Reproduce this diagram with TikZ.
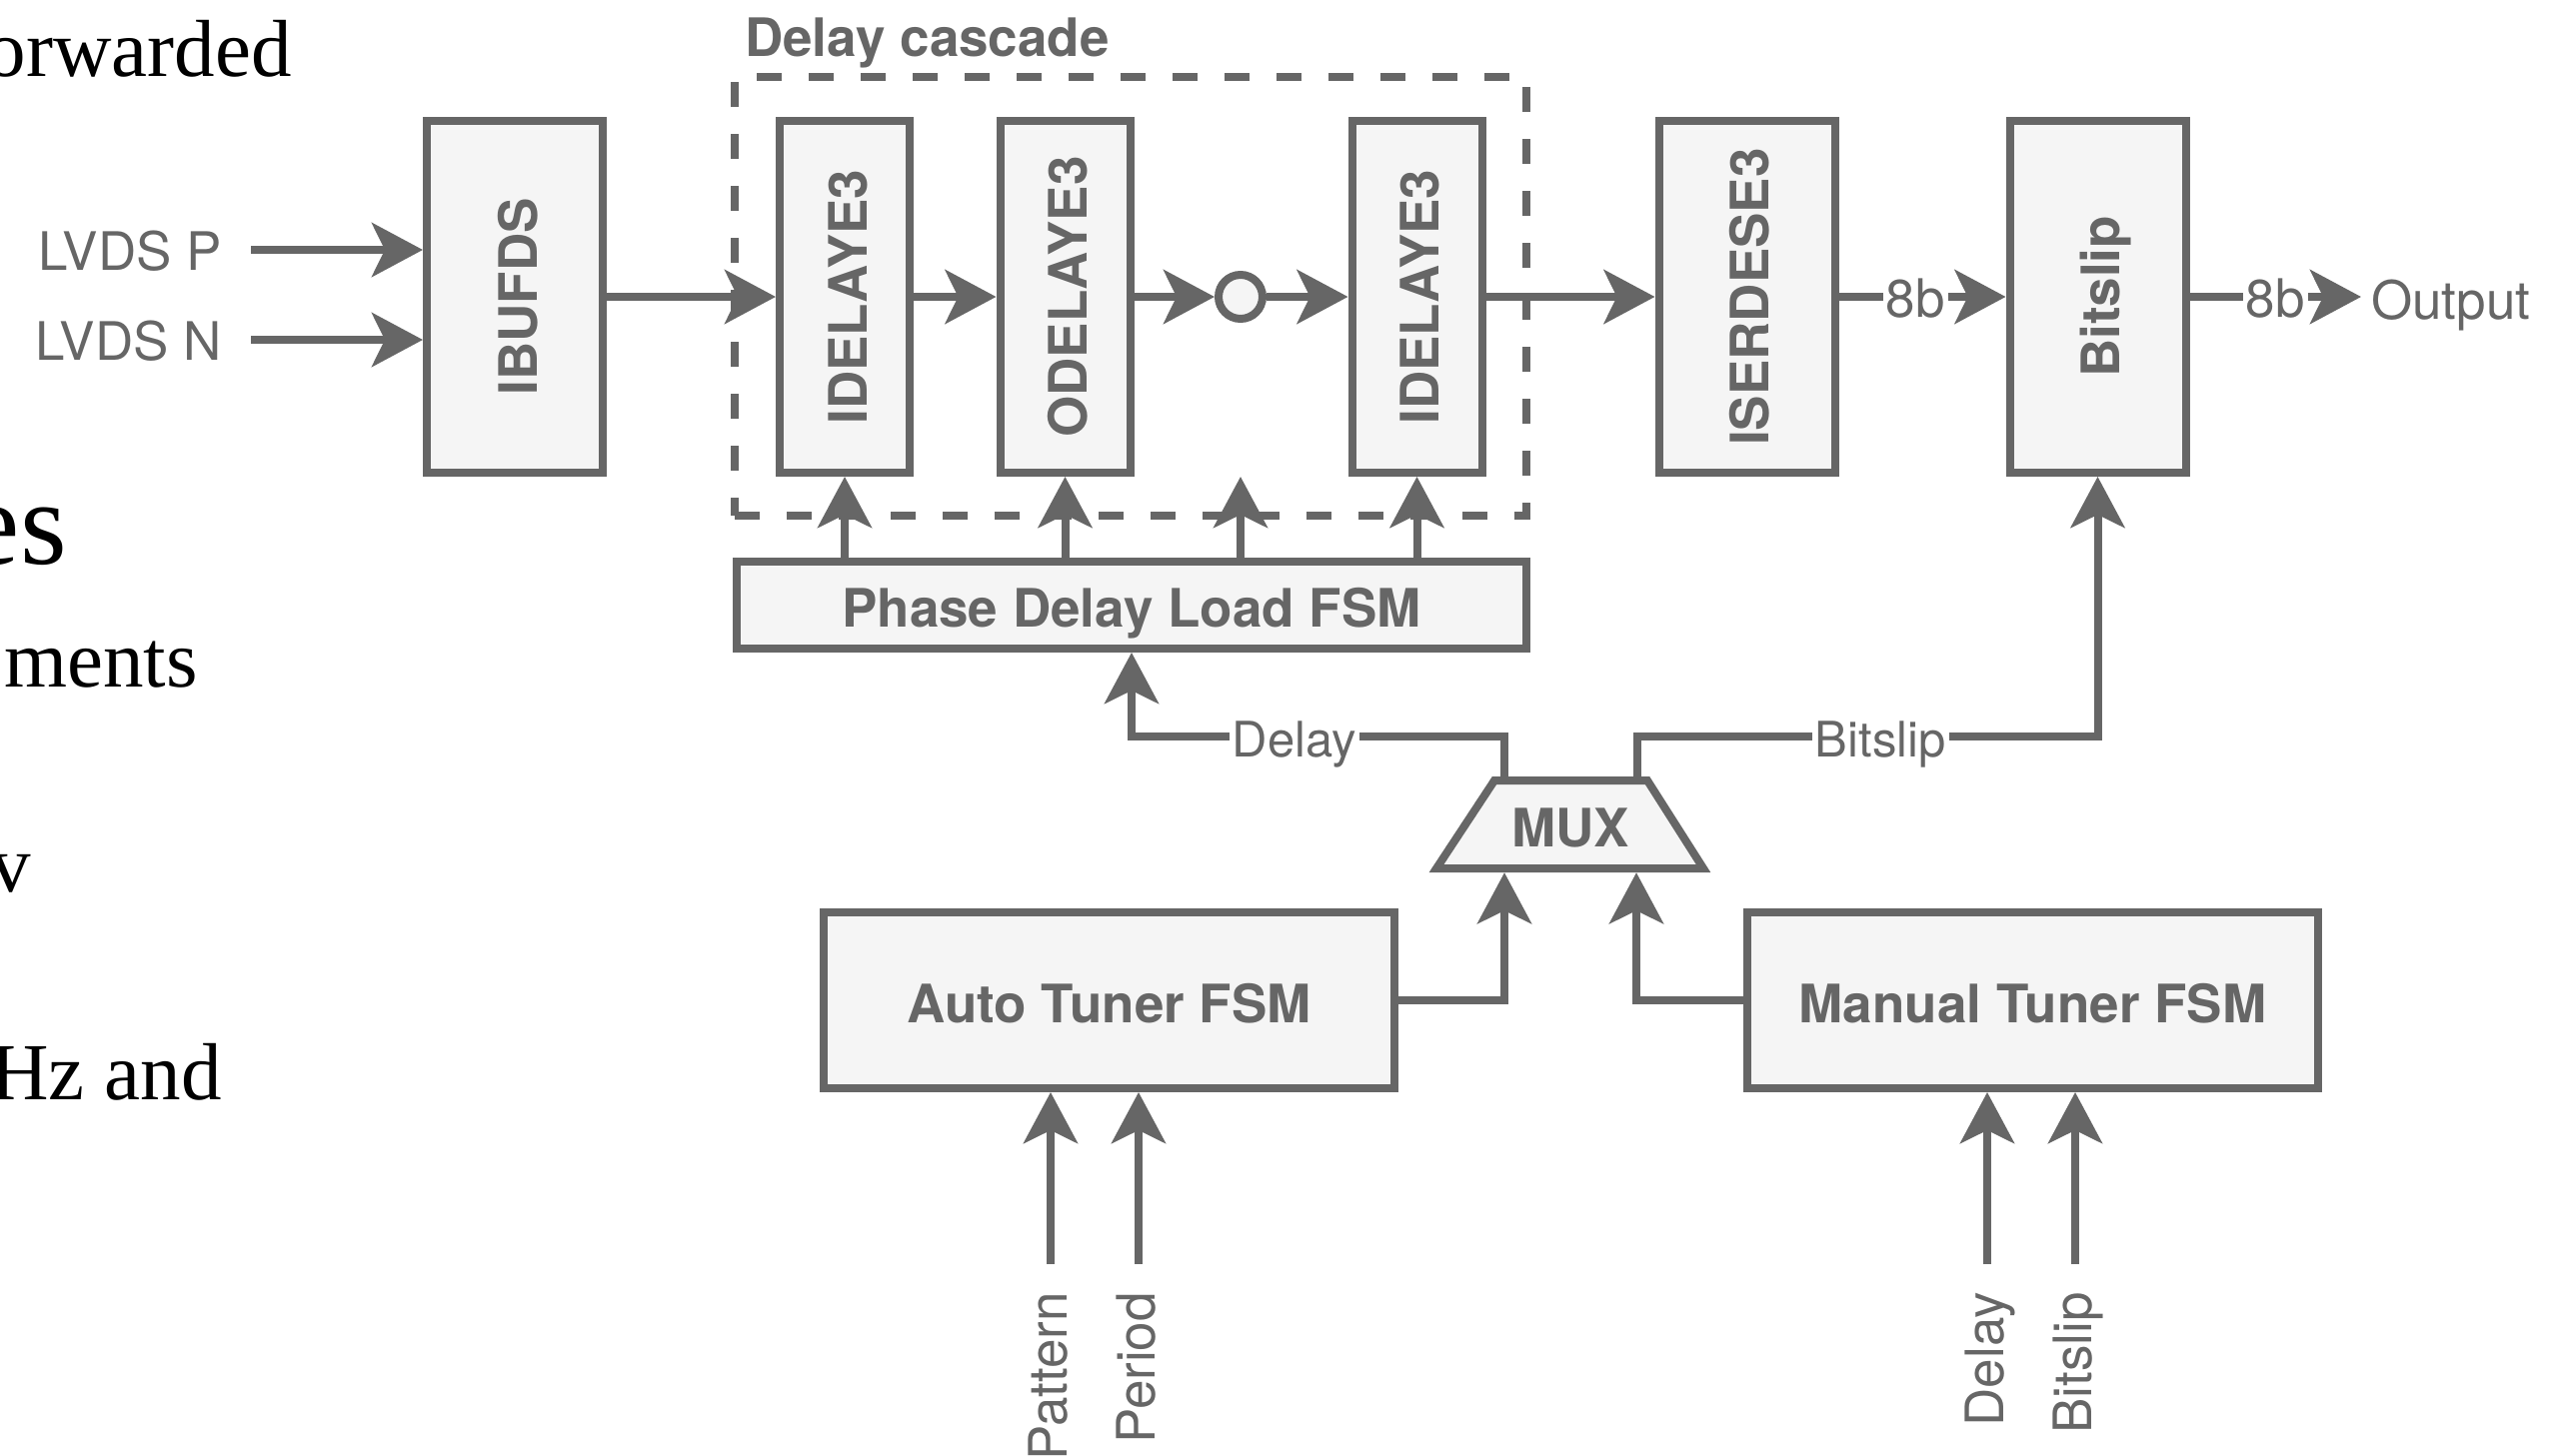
\documentclass[tikz,border=0pt]{standalone}
\usepackage{graphicx}
\usepackage{fontspec}
\setmainfont{TeX Gyre Heros}
\newfontfamily\bookserif{Liberation Serif}
\usetikzlibrary{arrows.meta}
\definecolor{ink}{HTML}{666666}
\definecolor{panel}{HTML}{F5F5F5}
\newcommand\boldlbl{\fontsize{53}{61}\selectfont\bfseries}
\newcommand\plainlbl{\fontsize{53}{61}\selectfont}
\newcommand\buslbl{\fontsize{49}{57}\selectfont}
\newcommand\prosefont{\bookserif\fontsize{81}{90}\selectfont}
% vertical block caption, reading bottom to top
\newcommand\uprot[1]{\rotatebox{90}{\raisebox{0pt}[44pt][0pt]{#1}}}

\begin{document}
\begin{tikzpicture}[x=1pt,y=-1pt,
  blk/.style={draw=ink, fill=panel, line width=8pt, inner sep=0pt, text=ink, font=\boldlbl},
  vblk/.style={blk, minimum width=#1, minimum height=352pt},
  hblk/.style={blk, minimum width=#1, text height=44pt, text depth=0pt},
  wire/.style={draw=ink, line width=8pt},
  arr/.style={wire, -{Stealth[length=51pt,width=54pt,inset=13pt]}},
  lbl/.style={text=ink, font=\plainlbl, inner sep=0pt},
  tag/.style={lbl, fill=white, inner xsep=3pt, text height=38pt, text depth=11pt, anchor=base, yshift=-20pt},
  bustag/.style={tag, font=\buslbl},
  side/.style={lbl, rotate=90, anchor=east, text height=38pt, text depth=6pt},
  prose/.style={font=\prosefont, text=black, inner sep=0pt, anchor=base east},
]
\useasboundingbox (0,0) rectangle (2571,1456);

% surrounding page text
\node[prose] (p1) at (292,76) {orwarded};
\node[prose, font=\bookserif\fontsize{120}{130}\selectfont] (p2) at (67,564) {es};
\node[prose] (p3) at (198,687) {ments};
\node[prose] (p4) at (31,892) {v};
\node[prose] (p5) at (222,1100) {Hz and};

% delay cascade frame
\node[draw=ink, line width=8pt, dash pattern=on 25pt off 27pt, minimum width=792pt,
      minimum height=439pt, inner sep=0pt] (cascade) at (1131,296.5) {};
\node[lbl, font=\boldlbl, anchor=base west] (cascadelbl) at (745,56) {Delay cascade};

% data path blocks
\node[vblk=176pt] (ibufds) at (515,297) {\uprot{IBUFDS}};
\node[vblk=130pt] (idly1) at (845,297) {\uprot{IDELAYE3}};
\node[vblk=130pt] (odly) at (1065.5,297) {\uprot{ODELAYE3}};
\node[circle, draw=ink, fill=panel, line width=8pt, minimum size=44pt, inner sep=0pt] (tap) at (1241,297) {};
\node[vblk=130pt] (idly2) at (1417.5,297) {\uprot{IDELAYE3}};
\node[vblk=176pt] (iserdes) at (1747.5,297) {\uprot{ISERDESE3}};
\node[vblk=176pt] (bitslip) at (2098.5,297) {\uprot{Bitslip}};

% control blocks
\node[hblk=790pt, minimum height=87pt] (pdl) at (1132,605.5) {Phase Delay Load FSM};
\node[hblk=571pt, minimum height=176pt] (auto) at (1109.5,1001) {Auto Tuner FSM};
\node[hblk=571pt, minimum height=176pt] (manual) at (2033.5,1001) {Manual Tuner FSM};

% multiplexer
\draw[draw=ink, fill=panel, line width=8pt, line join=miter]
  (1437,869) -- (1495,781) -- (1648,781) -- (1704,869) -- cycle;
\node[lbl, font=\boldlbl, text height=44pt, text depth=0pt, minimum width=267pt,
      minimum height=96pt] (mux) at (1571,825) {MUX};
\coordinate (muxoutD) at ([xshift=-66pt]mux.north);
\coordinate (muxoutB) at ([xshift=67pt]mux.north);
\coordinate (muxinA) at ([xshift=-66pt]mux.south);
\coordinate (muxinM) at ([xshift=66pt]mux.south);

% LVDS inputs
\coordinate (inP) at (251,250);
\coordinate (inN) at (251,340);
\node[lbl, anchor=base east] (lblP) at (222,270) {LVDS P};
\node[lbl, anchor=base east] (lblN) at (222,360) {LVDS N};
\draw[arr] (inP) -- (inP -| ibufds.west);
\draw[arr] (inN) -- (inN -| ibufds.west);

% serial data path
\draw[arr] (ibufds.east) -- (idly1.west);
\draw[arr] (idly1.east) -- (odly.west);
\draw[arr] (odly.east) -- (tap.west);
\draw[arr] (tap.east) -- (idly2.west);
\draw[arr] (idly2.east) -- (iserdes.west);
\draw[arr] (iserdes.east) -- node[tag, pos=0.46] {8b} (bitslip.west);
\node[lbl, inner xsep=10pt, anchor=base west] (out) at (2362,319) {Output};
\draw[arr] (bitslip.east) -- node[tag, pos=0.5] {8b} (bitslip.east -| out.west);

% delay load strobes
\draw[arr] (pdl.north -| idly1.south) -- (idly1.south);
\draw[arr] (pdl.north -| odly.south) -- (odly.south);
\draw[arr] (pdl.north -| tap) -- (tap |- idly1.south);
\draw[arr] (pdl.north -| idly2.south) -- (idly2.south);

% multiplexer outputs
\coordinate (busrow) at (0,737);
\draw[arr] (muxoutD) -- (muxoutD |- busrow)
  -- node[bustag, pos=0.564] {Delay} (pdl.south |- busrow) -- (pdl.south);
\draw[arr] (muxoutB) -- (muxoutB |- busrow)
  -- node[bustag, pos=0.528] {Bitslip} (bitslip.south |- busrow) -- (bitslip.south);

% multiplexer inputs
\draw[arr] (auto.east) -| (muxinA);
\draw[arr] (manual.west) -| (muxinM);

% tuner inputs
\coordinate (srcPat) at (1051,1265);
\coordinate (srcPer) at (1139,1265);
\coordinate (srcDly) at (1988,1265);
\coordinate (srcBit) at (2076,1265);
\draw[arr] (srcPat) -- (srcPat |- auto.south);
\draw[arr] (srcPer) -- (srcPer |- auto.south);
\draw[arr] (srcDly) -- (srcDly |- manual.south);
\draw[arr] (srcBit) -- (srcBit |- manual.south);
\node[side] (lPat) at (1051,1293) {Pattern};
\node[side] (lPer) at (1139,1293) {Period};
\node[side] (lDly) at (1988,1293) {Delay};
\node[side] (lBit) at (2076,1293) {Bitslip};
\end{tikzpicture}
\end{document}
